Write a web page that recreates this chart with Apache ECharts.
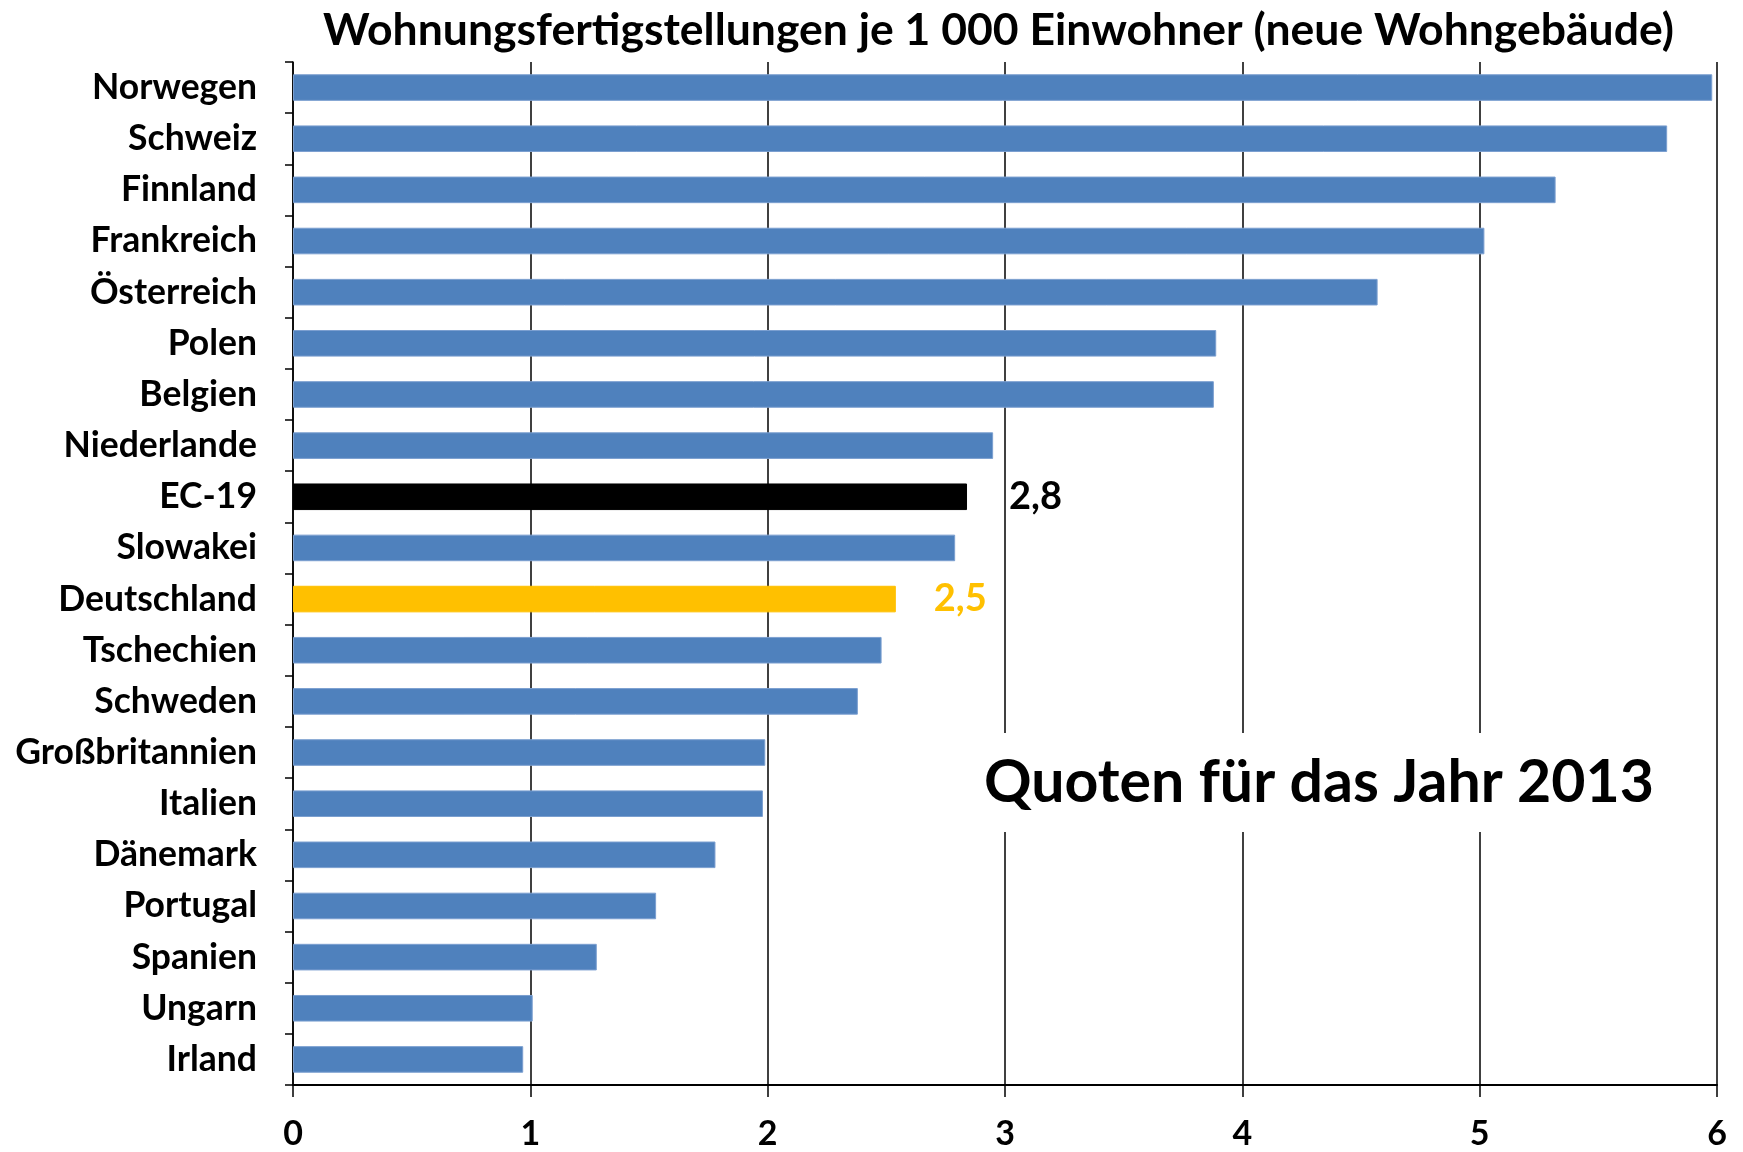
<!DOCTYPE html>
<html>
<head>
<meta charset="utf-8">
<script src="https://cdn.jsdelivr.net/npm/echarts@6/dist/echarts.min.js"></script>
<style>
  html, body { margin: 0; padding: 0; background: #fff; }
  #main { width: 1743px; height: 1152px; }
</style>
</head>
<body>
<div id="main"></div>
<script>
const countries = ['Norwegen', 'Schweiz', 'Finnland', 'Frankreich', 'Österreich', 'Polen', 'Belgien',
  'Niederlande', 'EC-19', 'Slowakei', 'Deutschland', 'Tschechien', 'Schweden', 'Großbritannien',
  'Italien', 'Dänemark', 'Portugal', 'Spanien', 'Ungarn', 'Irland']
const rates = [5.98, 5.79, 5.32, 5.02, 4.57, 3.89, 3.88, 2.95, 2.84, 2.79, 2.54, 2.48, 2.38, 1.99,
  1.98, 1.78, 1.53, 1.28, 1.01, 0.97]
const highlight = { 'EC-19': '#000000', 'Deutschland': '#FFC000' }

const font = 'Lato'
const chart = echarts.init(document.getElementById('main'))

const barData = rates.map(function (v, i) {
  const name = countries[i]
  const item = { value: v }
  if (highlight[name]) {
    item.itemStyle = { color: highlight[name], borderColor: highlight[name] }
    item.label = {
      show: true,
      position: 'right',
      distance: name === 'EC-19' ? 42 : 38,
      color: highlight[name],
      fontFamily: font,
      fontWeight: 'bold',
      fontSize: 38,
      formatter: function (p) { return p.value.toFixed(1).replace('.', ',') }
    }
  }
  return item
})

const option = {
  animation: false,
  title: {
    text: 'Wohnungsfertigstellungen je 1 000 Einwohner (neue Wohngebäude)',
    left: 318,
    top: 3,
    textStyle: { fontFamily: font, fontWeight: 'bold', fontSize: 44.5, color: '#000' }
  },
  grid: { left: 293, right: 26, top: 62, bottom: 67, containLabel: false },
  xAxis: {
    type: 'value',
    min: 0,
    max: 6,
    interval: 1,
    axisLine: { show: true, lineStyle: { color: '#000', width: 2 } },
    axisTick: { show: true, length: 12, lineStyle: { color: '#000', width: 1.5 } },
    splitLine: { show: true, lineStyle: { color: '#000', width: 1.5 } },
    axisLabel: { color: '#000', fontFamily: font, fontWeight: 'bold', fontSize: 34, margin: 32 }
  },
  yAxis: {
    type: 'category',
    inverse: true,
    data: countries,
    axisLine: { show: true, lineStyle: { color: '#000', width: 1.5 } },
    axisTick: { show: true, length: 8, lineStyle: { color: '#000', width: 1.5 } },
    axisLabel: { color: '#000', fontFamily: font, fontWeight: 'bold', fontSize: 35.5, margin: 36 }
  },
  series: [
    {
      type: 'bar',
      data: barData,
      barWidth: '52%',
      itemStyle: { color: '#4F81BD', borderColor: '#7B9FD0', borderWidth: 1 }
    }
  ],
  graphic: [
    {
      type: 'text',
      z: 100,
      left: 972,
      top: 733,
      style: {
        text: 'Quoten für das Jahr 2013',
        fontFamily: font,
        fontWeight: 'bold',
        fontSize: 59,
        fill: '#000',
        backgroundColor: '#fff',
        padding: [20, 12, 20, 12]
      }
    }
  ]
}

chart.setOption(option)
window.addEventListener('resize', () => {
  chart.resize()
})
</script>
</body>
</html>
